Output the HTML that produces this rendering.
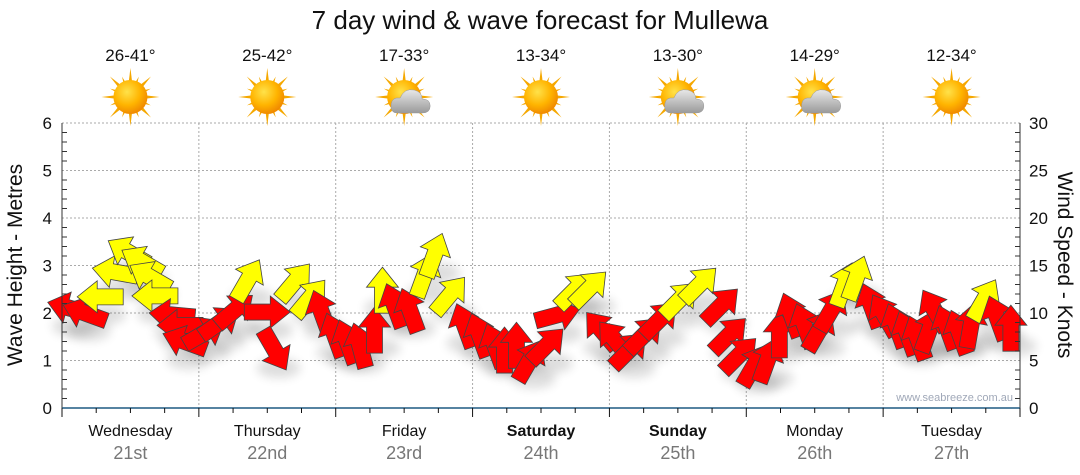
<!DOCTYPE html>
<html><head><meta charset="utf-8">
<style>
body{margin:0;background:#fff;}
svg{display:block;font-family:"Liberation Sans",sans-serif;}
</style></head>
<body>
<svg id="chart" width="1080" height="475" viewBox="0 0 1080 475">
<defs>
<radialGradient id="sunG" cx="40%" cy="35%" r="65%"><stop offset="0" stop-color="#ffe24a"/><stop offset="0.6" stop-color="#ffb400"/><stop offset="1" stop-color="#f08a00"/></radialGradient>
<linearGradient id="cloudG" x1="0" y1="0" x2="0" y2="1"><stop offset="0" stop-color="#e8e8e8"/><stop offset="1" stop-color="#9a9a9a"/></linearGradient>
<filter id="sh" x="-50%" y="-50%" width="200%" height="200%"><feGaussianBlur stdDeviation="5"/></filter>
</defs>
<text x="540" y="29" text-anchor="middle" font-size="26" fill="#111">7 day wind &amp; wave forecast for Mullewa</text>
<g id="grid"></g>
<g id="shadows"></g>
<g id="arrows"></g>
<g id="axes"></g>
<text x="0" y="0" transform="translate(22,265) rotate(-90)" text-anchor="middle" font-size="21" fill="#111">Wave Height - Metres</text>
<text x="0" y="0" transform="translate(1058,265) rotate(90)" text-anchor="middle" font-size="21" fill="#111">Wind Speed - Knots</text>
<text x="1013" y="401" text-anchor="end" font-size="11" fill="#a0a8b8">www.seabreeze.com.au</text>
</svg>
<script>
const dayNames=["Wednesday","Thursday","Friday","Saturday","Sunday","Monday","Tuesday"];
const dayDates=["21st","22nd","23rd","24th","25th","26th","27th"];
const temps=["26-41°","25-42°","17-33°","13-34°","13-30°","14-29°","12-34°"];
const icons=["sun","sun","cloud","sun","cloud","cloud","sun"];
const hours=[1.4,4,6.7,9.3,11.6,14,15.4,16.3,19.3,20.7,21.5,25,27.7,30.3,32.6,36,37.3,40.8,43.5,45.5,47.8,50,52.2,54.8,56.2,58.3,61,63.6,65.3,68,70.6,73.2,75.9,77.6,79.7,82,85,86.9,89.9,92.5,94.6,96.9,99.5,102.1,104.8,108.3,111.8,115.6,117,118.8,121.4,123.7,125.8,127.9,130.2,132.8,134.9,137.2,139.3,141.9,144.2,146.3,148.2,150,152.1,153,155.2,157.3,159.4,161.7,164,166.4];
const speeds=[10.5,10,11.7,14.3,16.4,15.4,13.8,11.8,9.8,8.7,7,7.9,9,10.3,13.5,10.1,6.1,13.3,11.6,10.1,7.7,7,6.6,8.2,12.4,10.8,10.3,14,16.1,11.9,8.7,7.7,6.6,6.1,6.6,5,6.6,9.8,12.4,12.6,8.2,7.2,6.1,7.7,9.3,11.4,13,10.8,7.7,5.6,4.5,5,7.7,9.8,8.7,8.2,10.3,13,13.7,10.8,9.8,8.7,7.9,7.4,8.2,10.3,8.5,8,8.7,11.4,9.5,8.4];
const headings=[285,290,270,280,300,300,300,270,275,270,290,60,55,50,30,90,150,40,40,340,340,340,345,0,0,340,340,20,20,40,340,340,340,0,0,30,45,75,45,45,320,320,45,45,45,45,45,45,45,45,30,20,0,340,340,30,30,20,20,340,330,340,340,340,20,330,340,340,10,30,340,0];
const waveTicks=[0,1,2,3,4,5,6];
const windTicks=[0,5,10,15,20,25,30];

const NS="http://www.w3.org/2000/svg";
const X0=62,X1=1020,Y0=408,Y1=123;
const xH=h=>X0+(X1-X0)*h/168;
const yW=m=>Y0-(Y0-Y1)*m/6;
const yK=k=>Y0-(Y0-Y1)*k/30;
function mk(tag,attrs,parent){const e=document.createElementNS(NS,tag);for(const k in attrs)e.setAttribute(k,attrs[k]);parent.appendChild(e);return e;}
const svg=document.getElementById('chart');
const grid=document.getElementById('grid'),axes=document.getElementById('axes');
const shadows=document.getElementById('shadows'),arrows=document.getElementById('arrows');

waveTicks.forEach(v=>{
  if(v>0){const g=mk('line',{x1:X0,x2:X1,y1:yW(v),y2:yW(v),stroke:'#aaa','stroke-dasharray':'2,2','stroke-width':1},grid);
  
  }
  const t=mk('text',{x:X0-10,y:yW(v)+6,'text-anchor':'end','font-size':17,fill:'#111'},axes);t.textContent=v;
  
  
});
for(let i=0;i<=30;i++){const y=Y0-(Y0-Y1)*i/30;mk('line',{x1:X0,x2:X0+(i%5?5:0),y1:y,y2:y,stroke:'#333'},axes);mk('line',{x1:X1-(i%5?5:0),x2:X1,y1:y,y2:y,stroke:'#333'},axes);}
windTicks.forEach(v=>{
  const t=mk('text',{x:X1+9,y:yK(v)+6,'font-size':17,fill:'#111'},axes);t.textContent=v;
  
  
});
mk('line',{x1:X0,x2:X0,y1:Y1,y2:Y0,stroke:'#333'},axes);
mk('line',{x1:X1,x2:X1,y1:Y1,y2:Y0,stroke:'#333'},axes);
mk('line',{x1:X0,x2:X1,y1:Y0,y2:Y0,stroke:'#1f5a82','stroke-width':1.5},axes);
for(let q=0;q<=28;q++){const x=xH(q*6);mk('line',{x1:x,x2:x,y1:Y0,y2:Y0+(q%4?5:9),stroke:'#111'},axes);
  if(q%4===0&&q>0&&q<28){const g=mk('line',{x1:x,x2:x,y1:Y1,y2:Y0,stroke:'#aaa','stroke-dasharray':'2,2'},grid);
  
  }}

dayNames.forEach((d,i)=>{
  const cx=xH(i*24+12);
  const a=mk('text',{x:cx,y:436,'text-anchor':'middle','font-size':16,fill:'#111','font-weight':(i===3||i===4)?'bold':'normal'},svg);a.textContent=d;
  
  
  const b=mk('text',{x:cx,y:459,'text-anchor':'middle','font-size':18,fill:'#777'},svg);b.textContent=dayDates[i];
  
  
  const t=mk('text',{x:cx,y:61,'text-anchor':'middle','font-size':17,fill:'#111'},svg);t.textContent=temps[i];
  
  
  const g=mk('g',{transform:`translate(${cx},97)`},svg);
  
  
  for(let k=0;k<16;k++){const ang=k*22.5,L=k%2?22:29;mk('polygon',{points:`-3.5,0 3.5,0 0,-${L}`,fill:'#f5a800',transform:`rotate(${ang})`},g);}
  mk('circle',{r:17,fill:'url(#sunG)'},g);
  if(icons[i]==='cloud'){mk('path',{d:'M-7,16 Q-14,16 -13,7 Q-12,0 -4,1 Q0,-9 10,-7 Q18,-5 18,2 Q26,2 26,9 Q26,16 18,16 Z',fill:'url(#cloudG)',stroke:'#999','stroke-width':0.5},g);}
});

hours.forEach((h,i)=>{
  const x=xH(h),y=yK(speeds[i]);
  const col=speeds[i]>=11?'#ffff00':'#ff0000';
  const s=mk('ellipse',{cx:x+4,cy:y+18,rx:22,ry:10,fill:'#000',opacity:0.13,filter:'url(#sh)'},shadows);
  
  
  const p=mk('polygon',{points:'-8,23 8,23 8,-3 16,-3 0,-23 -16,-3 -8,-3',fill:col,stroke:'#444','stroke-width':0.8,transform:`translate(${x},${y}) rotate(${headings[i]})`},arrows);
  
  
});
</script>
</body></html>
